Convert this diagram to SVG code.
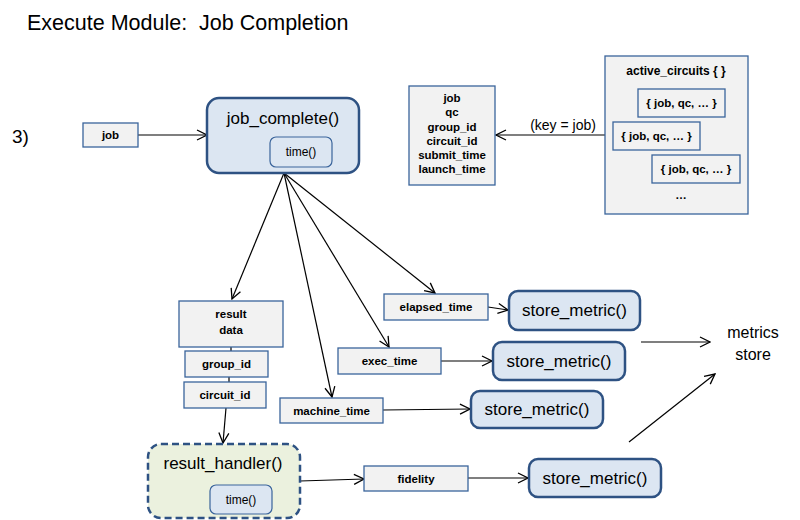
<svg xmlns="http://www.w3.org/2000/svg" width="800" height="520" viewBox="0 0 800 520">
<defs>
<marker id="ah" viewBox="0 0 12 12" refX="11" refY="6" markerWidth="12" markerHeight="12" markerUnits="userSpaceOnUse" orient="auto">
<path d="M1,1 L11,6 L1,11" fill="none" stroke="#000" stroke-width="1.3"/>
</marker>
<style>
text{font-family:"Liberation Sans",Arial,sans-serif;fill:#000}
.box{fill:#f2f2f2;stroke:#3a649b;stroke-width:1.3}
.lbl{font-size:11.5px;font-weight:bold;text-anchor:middle}
.fn{fill:#dce6f2;stroke:#2e5283;stroke-width:2.5}
.fnt{font-size:17px;text-anchor:middle}
.inner{fill:#dce6f2;stroke:#3a649b;stroke-width:1.2}
.it{font-size:12px;text-anchor:middle}
.ln{fill:none;stroke:#000;stroke-width:1.2}
.ar{fill:none;stroke:#000;stroke-width:1.2;marker-end:url(#ah)}
</style>
</defs>
<rect width="800" height="520" fill="#fff"/>
<text x="27" y="30" font-size="21.5" style="white-space:pre">Execute Module:  Job Completion</text>
<text x="12" y="143" font-size="19">3)</text>

<g id="connectors">
<line class="ar" x1="138" y1="135" x2="207" y2="135"/>
<line class="ar" x1="605" y1="135" x2="496" y2="135"/>
<line class="ar" x1="284" y1="173" x2="232" y2="299"/>
<line class="ar" x1="284" y1="173" x2="332" y2="397"/>
<line class="ar" x1="284" y1="173" x2="389" y2="347"/>
<line class="ar" x1="284" y1="173" x2="435" y2="293"/>
<line class="ln" x1="231" y1="347" x2="231" y2="351"/>
<line class="ln" x1="229" y1="377" x2="229" y2="382"/>
<line class="ar" x1="226" y1="408" x2="223" y2="443"/>
<line class="ar" x1="300" y1="481" x2="364" y2="479"/>
<line class="ar" x1="468" y1="478" x2="528" y2="478"/>
<line class="ar" x1="488" y1="307" x2="508" y2="310"/>
<line class="ar" x1="441" y1="361" x2="492" y2="361"/>
<line class="ar" x1="383" y1="410" x2="470" y2="409"/>
<line class="ar" x1="641" y1="342" x2="710" y2="342"/>
<line class="ar" x1="629" y1="442" x2="715" y2="374"/>
<text x="563" y="130" font-size="14" text-anchor="middle">(key = job)</text>
</g>

<g id="job">
<rect class="box" x="83" y="123" width="55" height="24"/>
<text class="lbl" x="110.5" y="139">job</text>
</g>

<g id="job_complete">
<rect class="fn" x="207" y="98" width="152" height="75" rx="12"/>
<text class="fnt" x="283" y="124">job_complete()</text>
<rect class="inner" x="270" y="137" width="62" height="30" rx="6"/>
<text class="it" x="301" y="156">time()</text>
</g>

<g id="job_info">
<rect class="box" x="409" y="86" width="86" height="99"/>
<text class="lbl" x="452" y="102">job</text>
<text class="lbl" x="452" y="116">qc</text>
<text class="lbl" x="452" y="131">group_id</text>
<text class="lbl" x="452" y="145">circuit_id</text>
<text class="lbl" x="452" y="159">submit_time</text>
<text class="lbl" x="452" y="173">launch_time</text>
</g>

<g id="active_circuits">
<rect class="box" x="605" y="56" width="143" height="158"/>
<text x="676" y="75" font-size="12" font-weight="bold" text-anchor="middle">active_circuits { }</text>
<rect class="box" x="638" y="89" width="87" height="28"/>
<text class="lbl" x="681.5" y="107">{ job, qc, … }</text>
<rect class="box" x="613" y="122" width="87" height="28"/>
<text class="lbl" x="656.5" y="140">{ job, qc, … }</text>
<rect class="box" x="652" y="155" width="88" height="28"/>
<text class="lbl" x="696" y="173">{ job, qc, … }</text>
<text class="lbl" x="681" y="199" font-size="13">…</text>
</g>

<g id="result_data">
<rect class="box" x="179" y="301" width="104" height="46"/>
<text class="lbl" x="231" y="318">result</text>
<text class="lbl" x="231" y="334">data</text>
</g>

<g id="group_id">
<rect class="box" x="185" y="351" width="83" height="26"/>
<text class="lbl" x="226.5" y="368">group_id</text>
</g>

<g id="circuit_id">
<rect class="box" x="184" y="382" width="82" height="26"/>
<text class="lbl" x="225" y="399">circuit_id</text>
</g>

<g id="result_handler">
<rect x="148" y="444" width="152" height="74" rx="13" fill="#ebf1de" stroke="#2e5283" stroke-width="2.5" stroke-dasharray="7,4"/>
<text class="fnt" x="223" y="469">result_handler()</text>
<rect class="inner" x="210" y="485" width="62" height="29" rx="6"/>
<text class="it" x="241" y="504">time()</text>
</g>

<g id="elapsed_time">
<rect class="box" x="384" y="294" width="104" height="26"/>
<text class="lbl" x="436" y="311">elapsed_time</text>
</g>

<g id="exec_time">
<rect class="box" x="338" y="348" width="103" height="26"/>
<text class="lbl" x="389.5" y="365">exec_time</text>
</g>

<g id="machine_time">
<rect class="box" x="280" y="398" width="103" height="25"/>
<text class="lbl" x="331.5" y="415">machine_time</text>
</g>

<g id="fidelity">
<rect class="box" x="364" y="466" width="104" height="25"/>
<text class="lbl" x="416" y="483">fidelity</text>
</g>

<g id="store_metric_1">
<rect class="fn" x="509" y="291" width="131" height="39" rx="9"/>
<text class="fnt" x="574.5" y="316">store_metric()</text>
</g>

<g id="store_metric_2">
<rect class="fn" x="493" y="342" width="132" height="38" rx="9"/>
<text class="fnt" x="559" y="367">store_metric()</text>
</g>

<g id="store_metric_3">
<rect class="fn" x="471" y="391" width="132" height="37" rx="9"/>
<text class="fnt" x="537" y="415">store_metric()</text>
</g>

<g id="store_metric_4">
<rect class="fn" x="529" y="459" width="132" height="38" rx="9"/>
<text class="fnt" x="595" y="484">store_metric()</text>
</g>

<g id="metrics_store">
<text x="753" y="338" font-size="16" text-anchor="middle">metrics</text>
<text x="753" y="360" font-size="16" text-anchor="middle">store</text>
</g>
</svg>
